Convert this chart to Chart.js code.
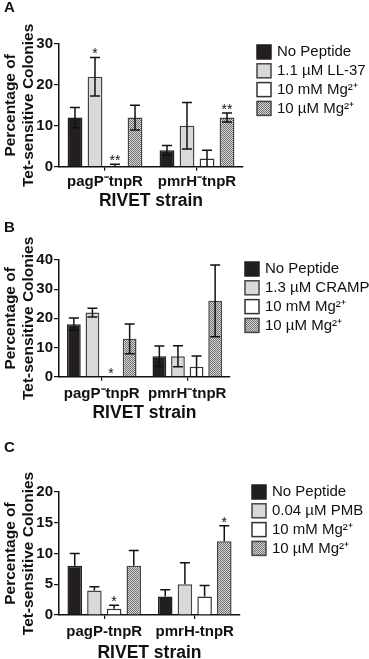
<!DOCTYPE html>
<html>
<head>
<meta charset="utf-8">
<script src="https://cdn.jsdelivr.net/npm/chart.js@4.4.1/dist/chart.umd.min.js"></script>
<style>
  html, body { margin: 0; background: #fff; overflow: hidden; }
  .panel { position: absolute; left: 0; width: 369px; }
</style>
</head>
<body>
<div class="panel" style="top:0"><canvas id="chartA" width="369" height="220"></canvas></div>
<div class="panel" style="top:220px"><canvas id="chartB" width="369" height="220"></canvas></div>
<div class="panel" style="top:440px"><canvas id="chartC" width="369" height="219"></canvas></div>
<script>
// Strains on the x axis
const strainsAB = ['pagP⁻tnpR', 'pmrH⁻tnpR'];
const strainsC = ['pagP-tnpR', 'pmrH-tnpR'];

// Treatments (one dataset each)
const treatmentsA = ['No Peptide', '1.1 µM LL-37', '10 mM Mg²⁺', '10 µM Mg²⁺'];
const treatmentsB = ['No Peptide', '1.3 µM CRAMP', '10 mM Mg²⁺', '10 µM Mg²⁺'];
const treatmentsC = ['No Peptide', '0.04 µM PMB', '10 mM Mg²⁺', '10 µM Mg²⁺'];

// Panel A: LL-37
const valuesA = [[12, 4], [22, 10], [0.2, 2], [12, 12]];
const errorsA = [[2.5, 1.2], [4.7, 5.7], [0.4, 2], [3, 1.1]];
const starsA = [['', ''], ['*', ''], ['**', ''], ['', '**']];
const ticksA = [0, 10, 20, 30];

// Panel B: CRAMP
const valuesB = [[18, 7], [22, 7], [0, 3.4], [13, 26]];
const errorsB = [[2.1, 3.5], [1.5, 3.6], [0, 3.7], [5.1, 12.3]];
const starsB = [['', ''], ['', ''], ['*', ''], ['', '']];
const ticksB = [0, 10, 20, 30, 40];

// Panel C: PMB (upper error bars only)
const valuesC = [[8, 3], [4, 5], [1, 3], [8, 12]];
const errorsC = [[2, 1.1], [0.6, 3.5], [0.6, 1.8], [2.5, 2.5]];
const starsC = [['', ''], ['', ''], ['*', ''], ['', '*']];
const ticksC = [0, 5, 10, 15, 20];

const FONT = '"Liberation Sans", Arial, sans-serif';

const makeHatch = (ctx) => {
    const c = document.createElement('canvas');
    c.width = 2; c.height = 2;
    const g = c.getContext('2d');
    g.fillStyle = '#d6d6d6';
    g.fillRect(0, 0, 2, 2);
    g.fillStyle = '#707070';
    g.fillRect(0, 0, 1, 1);
    g.fillRect(1, 1, 1, 1);
    return ctx.createPattern(c, 'repeat');
}

// error bars, stars, legend and panel letter
const makeExtras = (p) => ({
    id: 'extras',
    afterDatasetsDraw(chart) {
        const ctx = chart.ctx;
        const y = chart.scales.y;
        ctx.save();
        ctx.strokeStyle = '#111';
        ctx.lineWidth = 1.5;
        chart.data.datasets.forEach((ds, i) => {
            chart.getDatasetMeta(i).data.forEach((bar, j) => {
                const v = ds.data[j], e = ds.errors[j];
                const top = y.getPixelForValue(v + e);
                const bot = p.upOnly ? y.getPixelForValue(v) : y.getPixelForValue(Math.max(0, v - e));
                if (e > 0) {
                    ctx.beginPath();
                    ctx.moveTo(bar.x, top); ctx.lineTo(bar.x, bot);
                    ctx.moveTo(bar.x - 5, top); ctx.lineTo(bar.x + 5, top);
                    if (!p.upOnly && v - e > 0) {
                        ctx.moveTo(bar.x - 5, bot); ctx.lineTo(bar.x + 5, bot);
                    }
                    ctx.stroke();
                }
                if (ds.stars[j]) {
                    ctx.fillStyle = '#111';
                    ctx.font = '14px ' + FONT;
                    ctx.textAlign = 'center';
                    ctx.textBaseline = 'alphabetic';
                    ctx.fillText(ds.stars[j], bar.x, top + 1);
                }
            });
        });
        ctx.restore();
    },
    afterDraw(chart) {
        const ctx = chart.ctx;
        ctx.save();
        ctx.font = '15px ' + FONT;
        ctx.textBaseline = 'middle';
        ctx.textAlign = 'left';
        chart.data.datasets.forEach((ds, i) => {
            const yc = p.legendY + i * 18.8;
            ctx.fillStyle = ds.backgroundColor;
            ctx.fillRect(p.legendX, yc - 7, 14, 14);
            ctx.strokeStyle = ds.borderColor;
            ctx.lineWidth = 1.5;
            ctx.strokeRect(p.legendX, yc - 7, 14, 14);
            ctx.fillStyle = '#111';
            ctx.fillText(ds.label, p.legendX + 20, yc);
        });
        ctx.font = 'bold 15px ' + FONT;
        ctx.textBaseline = 'top';
        ctx.fillText(p.letter, 4, 0);
        ctx.restore();
    }
});

const createPanel = (id, strains, treatments, values, errors, stars, ticks, p) => {
    const canvas = document.getElementById(id);
    const ctx = canvas.getContext('2d');
    const h = canvas.height;
    const fills = ['#231f20', '#d9d9d9', '#ffffff', makeHatch(ctx)];
    const borders = ['#231f20', '#444444', '#333333', '#444444'];

    const datasets = treatments.map((name, i) => ({
        label: name,
        data: values[i],
        errors: errors[i],
        stars: stars[i],
        backgroundColor: fills[i],
        borderColor: borders[i],
        borderWidth: 1.5,
        categoryPercentage: 0.87,
        barPercentage: 0.74
    }));

    return new Chart(ctx, {
        type: 'bar',
        data: { labels: strains, datasets: datasets },
        options: {
            responsive: false,
            animation: false,
            layout: { padding: { left: 0, right: 369 - p.right, top: p.top, bottom: 0 } },
            plugins: {
                legend: { display: false },
                tooltip: { enabled: false }
            },
            scales: {
                x: {
                    grid: { drawOnChartArea: false, offset: false, tickLength: 4, color: '#111', lineWidth: 1.2 },
                    border: { color: '#111', width: 1.5 },
                    ticks: { color: '#111', padding: p.tickPad, font: { family: FONT, size: 15, weight: 'bold' } },
                    title: {
                        display: true,
                        text: 'RIVET strain',
                        color: '#111',
                        font: { family: FONT, size: 17.5, weight: 'bold' },
                        padding: { top: 0, bottom: h - p.titleY - 10.5 }
                    },
                    afterFit: (s) => { s.height = h - p.bottom; }
                },
                y: {
                    min: ticks[0],
                    max: ticks[ticks.length - 1],
                    grid: { drawOnChartArea: false, tickLength: 5, color: '#111', lineWidth: 1.2 },
                    border: { color: '#111', width: 1.5 },
                    ticks: { stepSize: ticks[1] - ticks[0], color: '#111', padding: 1, font: { family: FONT, size: 15, weight: 'bold' } },
                    title: {
                        display: true,
                        text: ['Percentage of', 'Tet-sensitive Colonies'],
                        color: '#111',
                        font: { family: FONT, size: 15.5, weight: 'bold' },
                        padding: { top: 1, bottom: 0 }
                    },
                    afterFit: (s) => { s.width = 59; }
                }
            }
        },
        plugins: [makeExtras(p)]
    });
}

createPanel('chartA', strainsAB, treatmentsA, valuesA, errorsA, starsA, ticksA,
    { letter: 'A', top: 44, bottom: 166.7, right: 243, titleY: 201, tickPad: 2, legendX: 257, legendY: 52, upOnly: false });
createPanel('chartB', strainsAB, treatmentsB, valuesB, errorsB, starsB, ticksB,
    { letter: 'B', top: 40, bottom: 156.7, right: 230, titleY: 193, tickPad: 4, legendX: 245, legendY: 49, upOnly: false });
createPanel('chartC', strainsC, treatmentsC, valuesC, errorsC, starsC, ticksC,
    { letter: 'C', top: 52, bottom: 175, right: 240, titleY: 213, tickPad: 4, legendX: 252, legendY: 52, upOnly: true });
</script>
</body>
</html>
